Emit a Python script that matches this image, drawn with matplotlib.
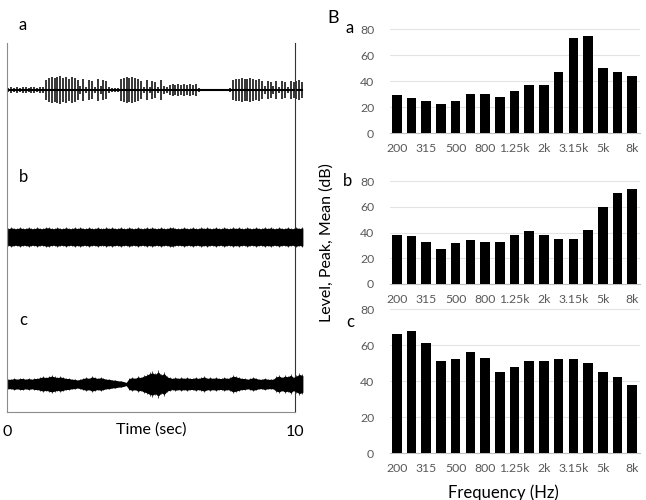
import matplotlib
matplotlib.use("Agg")
import matplotlib.pyplot as plt
import numpy as np

plt.rcParams["font.family"] = ["Lato", "DejaVu Sans"]

# third-octave bands
bands = ["200", "250", "315", "400", "500", "630", "800", "1k", "1.25k", "1.6k",
         "2k", "2.5k", "3.15k", "4k", "5k", "6.3k", "8k"]
level_a = [29, 27, 25, 22, 25, 30, 30, 28, 32, 37, 37, 47, 73, 75, 50, 47, 44]
level_b = [38, 37, 33, 27, 32, 34, 33, 33, 38, 41, 38, 35, 35, 42, 60, 71, 74]
level_c = [66, 68, 61, 51, 52, 56, 53, 45, 48, 51, 51, 52, 52, 50, 45, 42, 38]

# waveform envelopes (half amplitude, every 0.1 s)
wave_t_step = 0.1
wave_a = [2, 3, 2, 3, 2, 3, 3, 2, 3, 3, 2, 3, 3,
          10, 12, 13, 12, 13, 14, 12, 13, 11, 13, 12, 10,
          4, 11, 3, 10, 9, 3, 11, 4, 10, 9, 3, 2,
          2, 2,
          11, 12, 13, 12, 13, 12, 11, 9, 3, 10,
          3, 9, 8, 3, 10, 4, 3,
          5, 6, 5, 6, 5, 6, 5, 6, 5, 6, 2,
          1, 1, 1, 1, 1, 1, 1, 1, 1, 1, 2,
          10, 11, 11, 12, 11, 11, 12, 11, 10, 11, 9,
          4, 9, 8, 4, 9, 3, 9, 8, 3, 9, 8, 9, 10, 8]
wave_b = [9, 10, 9, 9, 10, 9, 9, 10, 9, 9,
          10, 9, 9, 10, 10, 9, 9, 10, 9, 9,
          10, 9, 9, 10, 9, 10, 9, 9, 10, 9,
          9, 10, 9, 9, 10, 9, 10, 9, 9, 10,
          9, 9, 10, 9, 9, 10, 9, 9, 10, 9,
          10, 9, 9, 10, 9, 9, 10, 10, 9, 9,
          9, 10, 9, 9, 10, 9, 9, 10, 9, 10,
          9, 9, 10, 9, 9, 10, 9, 9, 10, 9,
          10, 9, 9, 10, 9, 9, 10, 9, 9, 10,
          9, 10, 9, 9, 10, 9, 9, 10, 9, 9,
          10, 9, 10]
wave_c = [5, 5, 6, 5, 6, 6, 5, 6, 5, 6, 6,
          7, 8, 7, 8, 9, 8, 7, 8, 7, 6,
          6, 5, 5, 4, 5, 6,
          7, 6, 8, 7, 6, 7, 6, 5,
          5, 4, 4, 3, 3, 2, 1,
          6, 7, 6, 8, 7, 9, 10, 12,
          13, 11, 14, 10, 12, 8,
          7, 6, 7, 6, 7, 6, 7, 6, 6, 7,
          6, 7, 8, 6, 7, 6, 7, 6, 6, 7,
          6, 7, 9, 8, 7, 6, 6, 5, 6,
          7, 6, 5, 5, 6, 5, 5, 5,
          8, 9, 7, 9, 8, 10, 7, 9, 11, 10]

W, H = 646, 500
fig = plt.figure(figsize=(W / 100, H / 100), dpi=100)

# ---- left: waveforms (y in pixel units) ----
axw = fig.add_axes([7 / W, 88 / H, 288 / W, 369 / H])
axw.set_xlim(0, 10)
axw.set_ylim(0, 369)

t = np.arange(len(wave_a)) * wave_t_step + 0.05
amp = np.array(wave_a)
axw.vlines(t, 322 - amp, 322 + amp, color="black", lw=1.1, clip_on=False)
axw.plot([t[0], t[-1]], [322, 322], color="black", lw=1.5, clip_on=False)

# dense traces: solid core on top of thin hairs at the edges
for wave, center, core in [(wave_b, 175, 0.85), (wave_c, 28, 0.8)]:
    t = np.arange(len(wave)) * wave_t_step + 0.05
    amp = np.array(wave, dtype=float)
    axw.vlines(t, center - amp, center + amp, color="#333333", lw=0.6,
               clip_on=False, zorder=2)
    axw.fill_between(t, center - amp * core, center + amp * core,
                     facecolor="black", edgecolor="black", lw=1.0,
                     clip_on=False, zorder=3)

for sp in ["left", "bottom"]:
    axw.spines[sp].set_color("#8c8c8c")
axw.spines["right"].set_color("#333333")
axw.spines["top"].set_visible(False)
axw.set_yticks([])
axw.set_xticks([0, 10], ["0", "10"])
axw.tick_params(axis="x", length=0, pad=9, labelsize=11.5)
axw.text(0.5, -18 / 369, "Time (sec)", transform=axw.transAxes, ha="center",
         va="center", fontsize=11.5)
for lab, y in [("a", 25), ("b", 177), ("c", 320)]:
    fig.text(23 / W, 1 - y / H, lab, ha="center", va="center", fontsize=12)

# ---- right: band levels ----
def bar_panel(rect, levels):
    ax = fig.add_axes(rect)
    x = np.arange(len(bands))
    ax.bar(x, levels, width=0.65, color="black", zorder=3)
    ax.set_xlim(-0.5, len(bands) - 0.5)
    ax.set_ylim(0, 80)
    ax.set_yticks([0, 20, 40, 60, 80])
    ax.set_xticks(x[::2], bands[::2])
    ax.grid(axis="y", color="#e3e3e3", lw=0.8, zorder=0)
    for sp in ["left", "right", "top"]:
        ax.spines[sp].set_visible(False)
    ax.spines["bottom"].set_color("#bfbfbf")
    ax.tick_params(length=0, labelsize=8.8, labelcolor="#595959")
    ax.tick_params(axis="y", pad=11)
    ax.tick_params(axis="x", pad=7)
    return ax

bar_panel([389.5 / W, 367 / H, 250 / W, 104 / H], level_a)
bar_panel([389.5 / W, 216 / H, 250 / W, 103 / H], level_b)
bar_panel([389.5 / W, 47 / H, 250 / W, 144 / H], level_c)

fig.text(333 / W, 1 - 18 / H, "B", ha="center", va="center", fontsize=13)
for lab, x, y in [("a", 350, 28), ("b", 347, 181), ("c", 350, 322)]:
    fig.text(x / W, 1 - y / H, lab, ha="center", va="center", fontsize=12)
fig.text(327 / W, 1 - 243 / H, "Level, Peak, Mean (dB)", rotation=90,
         ha="center", va="center", fontsize=11.5)
fig.text(503 / W, 1 - 493 / H, "Frequency (Hz)", ha="center", va="center", fontsize=12)

fig.savefig("out.png", dpi=100)
